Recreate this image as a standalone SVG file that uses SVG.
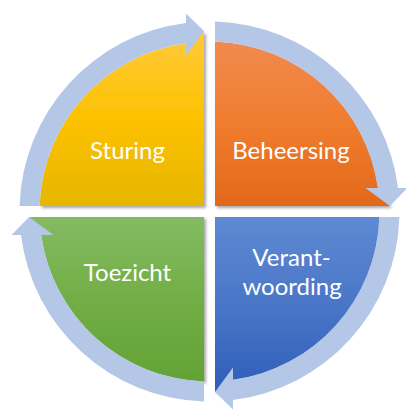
<svg xmlns="http://www.w3.org/2000/svg" width="406" height="412" viewBox="0 0 406 412">
<style>
.lbl{font-family:Lato,"Open Sans","Liberation Sans",sans-serif;font-size:24px;fill:#ffffff;text-anchor:middle}
.ring{fill:#b4c7e7}
</style>
<defs>
<linearGradient id="gY" x1="0" y1="0" x2="0" y2="1"><stop offset="0" stop-color="#ffca3c"/><stop offset="0.5" stop-color="#fdc100"/><stop offset="1" stop-color="#e6b600"/></linearGradient>
<linearGradient id="gO" x1="0" y1="0" x2="0" y2="1"><stop offset="0" stop-color="#f08a4e"/><stop offset="0.5" stop-color="#f07c2e"/><stop offset="1" stop-color="#e2691a"/></linearGradient>
<linearGradient id="gB" x1="0" y1="0" x2="0" y2="1"><stop offset="0" stop-color="#5e89d2"/><stop offset="0.5" stop-color="#4a76c8"/><stop offset="1" stop-color="#2f5eb9"/></linearGradient>
<linearGradient id="gG" x1="0" y1="0" x2="0" y2="1"><stop offset="0" stop-color="#84bb62"/><stop offset="0.5" stop-color="#72ae46"/><stop offset="1" stop-color="#63a235"/></linearGradient>
<filter id="sh" x="-10%" y="-10%" width="125%" height="125%"><feDropShadow dx="2" dy="2" stdDeviation="1.5" flood-color="#000000" flood-opacity="0.35"/></filter>
</defs>
<g id="sturing">
<path d="M204,206 L39.59,206 A170,170 0 0 1 186,43.13 L204,31.08 Z" fill="url(#gY)" filter="url(#sh)"/>
<text class="lbl" x="127.5" y="159">Sturing</text>
</g>
<g id="beheersing">
<path d="M215,206 L215,41.59 A170,170 0 0 1 377.87,188 L389.92,206 Z" fill="url(#gO)" filter="url(#sh)"/>
<text class="lbl" x="291" y="159">Beheersing</text>
</g>
<g id="verantwoording">
<path d="M215,217 L379.41,217 A170,170 0 0 1 233,379.87 L215,391.92 Z" fill="url(#gB)" filter="url(#sh)"/>
<text class="lbl" x="291.5" y="266">Verant-</text>
<text class="lbl" x="292" y="295">woording</text>
</g>
<g id="toezicht">
<path d="M204,217 L204,381.41 A170,170 0 0 1 41.13,235 L29.08,217 Z" fill="url(#gG)" filter="url(#sh)"/>
<text class="lbl" x="127.5" y="281">Toezicht</text>
</g>
<g id="connectors">
<path class="ring" d="M19.58,206 A190,190 0 0 1 186,22.96 L186,13.5 L204,31.08 L186,55.5 L186,43.13 A170,170 0 0 0 39.59,206 Z"/>
<path class="ring" d="M215,21.58 A190,190 0 0 1 398.04,188 L407.5,188 L389.92,206 L365.5,188 L377.87,188 A170,170 0 0 0 215,41.59 Z"/>
<path class="ring" d="M399.42,217 A190,190 0 0 1 233,400.04 L233,409.5 L215,391.92 L233,367.5 L233,379.87 A170,170 0 0 0 379.41,217 Z"/>
<path class="ring" d="M204,401.42 A190,190 0 0 1 20.96,235 L11.5,235 L29.08,217 L53.5,235 L41.13,235 A170,170 0 0 0 204,381.41 Z"/>
</g>
</svg>
